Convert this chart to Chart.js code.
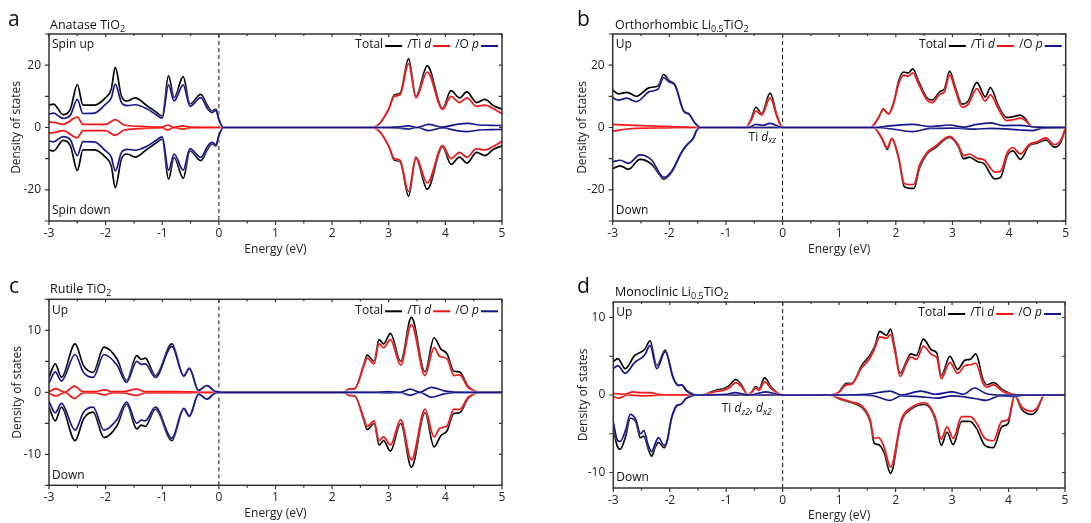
<!DOCTYPE html>
<html>
<head>
<meta charset="utf-8">
<script src="https://cdn.jsdelivr.net/npm/chart.js@4.4.0/dist/chart.umd.min.js"></script>
<style>
  body { margin: 0; width: 1091px; height: 523px; position: relative; background: #fff; overflow: hidden;
         font-family: "Open Sans", "Noto Sans", sans-serif; color: #111; }
  .panel { position: absolute; }
  .letter { position: absolute; font-size: 21px; line-height: 1; }
  .title { position: absolute; font-size: 12.5px; line-height: 1; white-space: nowrap; }
  .title sub { font-size: 9px; vertical-align: -3px; line-height: 0; }
</style>
</head>
<body>
<div class="panel" style="left:0;top:0"><canvas id="chartA" width="545" height="262"></canvas></div>
<div class="panel" style="left:545px;top:0"><canvas id="chartB" width="546" height="262"></canvas></div>
<div class="panel" style="left:0;top:262px"><canvas id="chartC" width="545" height="261"></canvas></div>
<div class="panel" style="left:545px;top:262px"><canvas id="chartD" width="546" height="261"></canvas></div>

<div class="letter" style="left:8px;top:8px">a</div>
<div class="title" style="left:50px;top:19px">Anatase TiO<sub>2</sub></div>
<div class="letter" style="left:577px;top:8px">b</div>
<div class="title" style="left:615px;top:19px">Orthorhombic Li<sub>0.5</sub>TiO<sub>2</sub></div>
<div class="letter" style="left:9px;top:275px">c</div>
<div class="title" style="left:50px;top:283px">Rutile TiO<sub>2</sub></div>
<div class="letter" style="left:577px;top:275px">d</div>
<div class="title" style="left:615px;top:286px">Monoclinic Li<sub>0.5</sub>TiO<sub>2</sub></div>

<script>
// energy axis
const xTicks = [-3, -2.5, -2, -1.5, -1, -0.5, 0, 0.5, 1, 1.5, 2, 2.5, 3, 3.5, 4, 4.5, 5];
const xLabels = [-3, -2, -1, 0, 1, 2, 3, 4, 5];
const yTicksAB = [-30, -20, -10, 0, 10, 20, 30];
const yLabelsAB = [-20, 0, 20];
const yTicksC = [-15, -10, -5, 0, 5, 10, 15];
const yTicksD = [-10, -5, 0, 5, 10];
const yLabelsCD = [-10, 0, 10];

// (a) Anatase TiO2  [energy eV, DOS]
const aTotalUp = [[-3,7.2],[-2.92,7.5],[-2.75,4.1],[-2.62,6],[-2.5,13.8],[-2.4,7.2],[-2.2,7.2],[-2.0,9.6],[-1.9,12.3],[-1.83,19.3],[-1.72,10],[-1.62,8.5],[-1.48,9.5],[-1.27,7],[-1.1,4.8],[-1.0,3.7],[-0.89,16.6],[-0.79,9.6],[-0.63,16.3],[-0.51,7.5],[-0.32,10.6],[-0.2,7],[-0.12,5.3],[-0.05,5.9],[0,2.7],[0.08,0],[2.6,0],[2.75,0.2],[2.85,1.5],[3.0,6],[3.1,10.5],[3.2,11],[3.35,22],[3.48,10],[3.68,19.8],[3.95,6.2],[4.1,11.8],[4.25,9.5],[4.38,11.4],[4.55,8],[4.7,9],[4.85,7],[5,5.9]];
const aTiUp = [[-3,1.8],[-2.9,1.6],[-2.75,1.0],[-2.5,3.3],[-2.4,1.0],[-2.0,1.0],[-1.83,2.5],[-1.67,0.8],[-1.3,0.3],[-1.0,0.1],[-0.9,0.8],[-0.8,0.05],[-0.63,0.5],[-0.5,0.1],[-0.3,0.05],[0,0],[2.6,0],[2.75,0.2],[2.85,1.5],[3.0,6],[3.1,10],[3.2,10.5],[3.35,20.5],[3.48,9.5],[3.68,17.8],[3.95,5.8],[4.1,10],[4.25,8],[4.38,9.5],[4.55,6.8],[4.7,7.2],[4.85,6],[5,4.4]];
const aOpUp = [[-3,4.3],[-2.92,4.6],[-2.75,2.9],[-2.62,4],[-2.5,9],[-2.4,4.5],[-2.2,4.6],[-2.0,7.5],[-1.9,9.5],[-1.83,13.9],[-1.72,8],[-1.62,7],[-1.48,7.3],[-1.27,6],[-1.1,4],[-1.0,3],[-0.89,13.7],[-0.79,8.5],[-0.63,13.7],[-0.51,6.8],[-0.32,9.6],[-0.2,6],[-0.12,4.8],[-0.05,5.5],[0,2.5],[0.08,0],[2.7,0],[3.2,0.2],[3.35,0.5],[3.5,0],[3.7,1.0],[3.95,0.1],[4.2,1.0],[4.4,1.3],[4.6,0.8],[4.8,0.7],[5,0.6]];
const aTotalDown = [[-3,-7.2],[-2.92,-7.5],[-2.75,-4.1],[-2.62,-6],[-2.5,-13.8],[-2.4,-7.2],[-2.2,-7.2],[-2.0,-9.6],[-1.9,-12.3],[-1.83,-19.3],[-1.72,-10],[-1.62,-8.5],[-1.48,-9.5],[-1.27,-7],[-1.1,-4.8],[-1.0,-3.7],[-0.89,-16.6],[-0.79,-9.6],[-0.63,-16.3],[-0.51,-7.5],[-0.32,-10.6],[-0.2,-7],[-0.12,-5.3],[-0.05,-5.9],[0,-2.7],[0.08,0],[2.6,0],[2.75,-0.2],[2.85,-1.5],[3.0,-6],[3.1,-10.5],[3.2,-11],[3.35,-22],[3.48,-10],[3.68,-19.8],[3.95,-6.2],[4.1,-11.8],[4.25,-9.5],[4.38,-11.4],[4.55,-8],[4.7,-9],[4.85,-7],[5,-5.9]];
const aTiDown = [[-3,-1.8],[-2.9,-1.6],[-2.75,-1.0],[-2.5,-3.3],[-2.4,-1.0],[-2.0,-1.0],[-1.83,-2.5],[-1.67,-0.8],[-1.3,-0.3],[-1.0,-0.1],[-0.9,-0.8],[-0.8,-0.05],[-0.63,-0.5],[-0.5,-0.1],[-0.3,-0.05],[0,0],[2.6,0],[2.75,-0.2],[2.85,-1.5],[3.0,-6],[3.1,-10],[3.2,-10.5],[3.35,-20.5],[3.48,-9.5],[3.68,-17.8],[3.95,-5.8],[4.1,-10],[4.25,-8],[4.38,-9.5],[4.55,-6.8],[4.7,-7.2],[4.85,-6],[5,-4.4]];
const aOpDown = [[-3,-4.3],[-2.92,-4.6],[-2.75,-2.9],[-2.62,-4],[-2.5,-9],[-2.4,-4.5],[-2.2,-4.6],[-2.0,-7.5],[-1.9,-9.5],[-1.83,-13.9],[-1.72,-8],[-1.62,-7],[-1.48,-7.3],[-1.27,-6],[-1.1,-4],[-1.0,-3],[-0.89,-13.7],[-0.79,-8.5],[-0.63,-13.7],[-0.51,-6.8],[-0.32,-9.6],[-0.2,-6],[-0.12,-4.8],[-0.05,-5.5],[0,-2.5],[0.08,0],[2.7,0],[3.2,-0.2],[3.35,-0.5],[3.5,0],[3.7,-1.0],[3.95,-0.1],[4.2,-1.0],[4.4,-1.3],[4.6,-0.8],[4.8,-0.7],[5,-0.6]];

// (b) Orthorhombic Li0.5TiO2
const bTotalUp = [[-3,12],[-2.9,10.8],[-2.75,11.3],[-2.58,10],[-2.35,12.8],[-2.2,13.3],[-2.1,17],[-2.0,15],[-1.9,13.8],[-1.75,5.5],[-1.65,4.3],[-1.55,1.5],[-1.45,0],[-0.65,0],[-0.55,3],[-0.47,6.5],[-0.37,4.5],[-0.22,11],[-0.1,4],[-0.02,0.5],[0.05,0],[1.55,0],[1.69,3],[1.78,6],[1.87,4.5],[1.96,8],[2.05,15],[2.14,17.8],[2.22,17.5],[2.3,18.8],[2.4,15],[2.55,9.5],[2.64,8.8],[2.78,11.5],[2.86,12.5],[2.95,18],[3.05,13],[3.17,7.5],[3.28,8.5],[3.43,14.5],[3.58,9.8],[3.67,12.8],[3.81,7],[3.96,3.2],[4.08,3.5],[4.2,4.0],[4.28,3],[4.4,0.2],[4.46,0],[5,0]];
const bTiUp = [[-3,1.0],[-2.5,0.6],[-2,0.3],[-1.5,0],[-0.65,0],[-0.55,2.5],[-0.47,5.3],[-0.37,4],[-0.22,9.5],[-0.1,3.5],[-0.02,0.3],[0.05,0],[1.55,0],[1.69,3],[1.78,5.8],[1.87,4.3],[1.96,7.5],[2.05,14],[2.14,16.8],[2.22,16.5],[2.3,17.5],[2.4,14],[2.55,8.8],[2.64,8],[2.78,10.7],[2.86,11.5],[2.95,16.8],[3.05,12],[3.17,6.5],[3.28,7.5],[3.43,12.5],[3.58,8.5],[3.67,10.5],[3.81,6],[3.96,2.2],[4.08,2.5],[4.2,3.0],[4.28,2.3],[4.4,0.2],[4.46,0],[5,0]];
const bOpUp = [[-3,9.5],[-2.9,8.8],[-2.75,9.4],[-2.58,8.3],[-2.35,11.5],[-2.2,12.3],[-2.1,16],[-2.0,14.6],[-1.9,13.5],[-1.75,5.3],[-1.65,4.2],[-1.55,1.5],[-1.45,0],[-0.6,0],[-0.47,1],[-0.35,0.7],[-0.22,1.3],[0,0],[1.6,0],[1.9,0.5],[2.3,1.0],[2.6,0.3],[2.95,0.8],[3.2,0.1],[3.4,0.9],[3.67,1.5],[3.9,0.6],[4.2,0.7],[4.5,0.1],[5,0]];
const bTotalDown = [[-3,-13.2],[-2.87,-12.3],[-2.72,-13.4],[-2.52,-10.2],[-2.31,-11.8],[-2.16,-15.5],[-2.1,-16.6],[-1.96,-14.4],[-1.78,-8],[-1.7,-5.9],[-1.57,-3.2],[-1.52,-1],[-1.45,0],[1.6,0],[1.75,-3.5],[1.85,-7],[1.93,-3.8],[2.05,-10],[2.15,-19],[2.25,-19.5],[2.32,-19.5],[2.42,-13],[2.55,-8.5],[2.7,-6.5],[2.95,-3.2],[3.1,-6],[3.2,-10],[3.3,-9.5],[3.45,-11],[3.55,-11.5],[3.75,-16.5],[3.85,-16],[3.97,-9],[4.07,-7.5],[4.2,-10.2],[4.35,-6],[4.5,-5],[4.65,-4],[4.8,-6.3],[4.92,-4.5],[5,0]];
const bTiDown = [[-3,-1.2],[-2.7,-0.4],[-2.0,-0.1],[-1.5,0],[1.6,0],[1.75,-3.2],[1.85,-6.5],[1.93,-3.5],[2.05,-9.5],[2.15,-18],[2.25,-18.3],[2.32,-18.2],[2.42,-12],[2.55,-8],[2.7,-6],[2.95,-2.8],[3.1,-5.5],[3.2,-9],[3.3,-8.5],[3.45,-10],[3.55,-10.3],[3.75,-14.3],[3.85,-14],[3.97,-8],[4.07,-6.5],[4.2,-8.5],[4.35,-5.5],[4.5,-4.5],[4.65,-3.3],[4.8,-5.5],[4.92,-3.8],[5,0]];
const bOpDown = [[-3,-11],[-2.87,-10.5],[-2.72,-11.5],[-2.52,-8.8],[-2.31,-10.5],[-2.16,-15],[-2.1,-16],[-1.96,-14],[-1.78,-7.8],[-1.7,-5.8],[-1.57,-3.2],[-1.52,-1],[-1.45,0],[1.6,0],[1.9,-0.4],[2.3,-1.3],[2.6,-0.3],[3.0,-0.2],[3.4,-0.5],[3.67,-0.3],[4.0,-0.5],[4.2,-0.8],[4.4,-1.0],[4.6,-0.2],[5,0]];

// (c) Rutile TiO2
const cTotalUp = [[-3,2.4],[-2.89,4.6],[-2.78,2.4],[-2.54,7.8],[-2.39,4.3],[-2.22,3.2],[-2.03,7.3],[-1.8,5.4],[-1.63,1.9],[-1.45,5.9],[-1.37,5.3],[-1.3,5.5],[-1.12,2.7],[-0.83,7.8],[-0.62,2.7],[-0.52,3.9],[-0.36,0.3],[-0.21,1.1],[-0.08,0.2],[0.05,0],[2.2,0],[2.3,0.5],[2.4,0.6],[2.56,4.5],[2.62,6],[2.74,5],[2.83,8.5],[2.91,7.8],[3.03,9.5],[3.21,5.0],[3.4,12.1],[3.64,3.3],[3.8,8.8],[3.92,7],[4.03,6.2],[4.15,3.4],[4.25,3.3],[4.4,1.0],[4.5,0.3],[4.6,0],[5,0]];
const cTiUp = [[-3,0.1],[-2.88,0.6],[-2.72,0.0],[-2.55,1.0],[-2.4,0.1],[-2.2,0.1],[-2.0,0.4],[-1.9,0.1],[-1.7,0.1],[-1.45,0.5],[-1.3,0.1],[-0.8,0.1],[0,0],[2.2,0],[2.3,0.5],[2.4,0.6],[2.56,4.2],[2.62,5.5],[2.74,4.6],[2.83,7.8],[2.91,7.2],[3.03,8.5],[3.21,4.4],[3.4,10.9],[3.64,2.7],[3.8,7.2],[3.9,5.8],[4.03,5.4],[4.15,2.7],[4.25,2.8],[4.4,0.8],[4.5,0.3],[4.6,0],[5,0]];
const cOpUp = [[-3,1.5],[-2.89,3.3],[-2.78,1.8],[-2.54,6.1],[-2.39,3.2],[-2.22,2.4],[-2.03,6.1],[-1.8,4.4],[-1.63,1.6],[-1.45,5.0],[-1.37,4.5],[-1.3,4.6],[-1.12,2.4],[-0.83,7.4],[-0.62,2.6],[-0.52,3.8],[-0.36,0.3],[-0.21,1.1],[-0.08,0.2],[0.05,0],[2.7,0],[3.0,0.1],[3.2,0],[3.38,0.5],[3.55,0],[3.75,0.8],[4.0,0.2],[4.3,0],[5,0]];
const cTotalDown = [[-3,-2.4],[-2.89,-4.6],[-2.78,-2.4],[-2.54,-7.8],[-2.39,-4.3],[-2.22,-3.2],[-2.03,-7.3],[-1.8,-5.4],[-1.63,-1.9],[-1.45,-5.9],[-1.37,-5.3],[-1.3,-5.5],[-1.12,-2.7],[-0.83,-7.8],[-0.62,-2.7],[-0.52,-3.9],[-0.36,-0.3],[-0.21,-1.1],[-0.08,-0.2],[0.05,0],[2.2,0],[2.3,-0.5],[2.4,-0.6],[2.56,-4.5],[2.62,-6],[2.74,-5],[2.83,-8.5],[2.91,-7.8],[3.03,-9.5],[3.21,-5.0],[3.4,-12.1],[3.64,-3.3],[3.8,-8.8],[3.92,-7],[4.03,-6.2],[4.15,-3.4],[4.25,-3.3],[4.4,-1.0],[4.5,-0.3],[4.6,0],[5,0]];
const cTiDown = [[-3,-0.1],[-2.88,-0.6],[-2.72,0.0],[-2.55,-1.0],[-2.4,-0.1],[-2.2,-0.1],[-2.0,-0.4],[-1.9,-0.1],[-1.7,-0.1],[-1.45,-0.5],[-1.3,-0.1],[-0.8,-0.1],[0,0],[2.2,0],[2.3,-0.5],[2.4,-0.6],[2.56,-4.2],[2.62,-5.5],[2.74,-4.6],[2.83,-7.8],[2.91,-7.2],[3.03,-8.5],[3.21,-4.4],[3.4,-10.9],[3.64,-2.7],[3.8,-7.2],[3.9,-5.8],[4.03,-5.4],[4.15,-2.7],[4.25,-2.8],[4.4,-0.8],[4.5,-0.3],[4.6,0],[5,0]];
const cOpDown = [[-3,-1.5],[-2.89,-3.3],[-2.78,-1.8],[-2.54,-6.1],[-2.39,-3.2],[-2.22,-2.4],[-2.03,-6.1],[-1.8,-4.4],[-1.63,-1.6],[-1.45,-5.0],[-1.37,-4.5],[-1.3,-4.6],[-1.12,-2.4],[-0.83,-7.4],[-0.62,-2.6],[-0.52,-3.8],[-0.36,-0.3],[-0.21,-1.1],[-0.08,-0.2],[0.05,0],[2.7,0],[3.0,-0.1],[3.2,0],[3.38,-0.5],[3.55,0],[3.75,-0.8],[4.0,-0.2],[4.3,0],[5,0]];

// (d) Monoclinic Li0.5TiO2
const dTotalUp = [[-3,4.3],[-2.92,4.7],[-2.79,3.4],[-2.62,5.1],[-2.44,5.9],[-2.35,7.0],[-2.23,3.8],[-2.08,5.8],[-1.94,2.3],[-1.85,1.3],[-1.79,1.3],[-1.7,0.6],[-1.55,0.05],[-1.45,0],[-1.3,0.3],[-1.15,0.7],[-1.05,0.8],[-0.95,1.2],[-0.83,2.0],[-0.72,1.2],[-0.62,0.05],[-0.55,0.4],[-0.48,1.1],[-0.42,0.8],[-0.32,2.2],[-0.2,1.0],[-0.05,0.1],[0,0],[0.81,0],[0.98,0.3],[1.13,1.5],[1.22,1.5],[1.4,3.8],[1.55,5.2],[1.63,6.3],[1.72,8.2],[1.84,7.7],[1.91,8.5],[1.99,6],[2.08,2.8],[2.2,4.5],[2.27,5.3],[2.37,5.1],[2.49,7.2],[2.64,5.8],[2.73,5.4],[2.81,2.5],[2.96,5.0],[3.1,3.3],[3.23,4.5],[3.32,4.6],[3.42,5.3],[3.55,2.0],[3.62,1.3],[3.73,1.6],[3.91,0.6],[4.08,0.1],[4.2,0],[5,0]];
const dTiUp = [[-3,0.2],[-2.8,0.1],[-2.65,0.4],[-2.5,0.3],[-2.35,0.3],[-2.2,0.1],[-2.0,0],[-1.45,0],[-1.3,0.2],[-1.15,0.5],[-1.05,0.6],[-0.95,0.9],[-0.83,1.6],[-0.72,1.0],[-0.62,0.05],[-0.55,0.3],[-0.48,0.9],[-0.42,0.6],[-0.32,1.7],[-0.2,0.8],[-0.05,0.1],[0,0],[0.81,0],[0.98,0.25],[1.13,1.3],[1.22,1.4],[1.4,3.5],[1.55,4.8],[1.63,6.0],[1.72,7.5],[1.84,7.3],[1.91,7.8],[1.99,5.5],[2.08,2.4],[2.2,4.2],[2.27,4.9],[2.37,4.6],[2.49,6.3],[2.64,5.2],[2.73,4.8],[2.81,2.1],[2.96,4.2],[3.1,2.8],[3.23,3.8],[3.32,3.9],[3.42,4.1],[3.55,1.5],[3.62,1.0],[3.73,1.3],[3.91,0.4],[4.08,0.1],[4.2,0],[5,0]];
const dOpUp = [[-3,3.4],[-2.92,3.8],[-2.79,2.8],[-2.62,4.2],[-2.44,5.2],[-2.35,6.4],[-2.23,3.4],[-2.08,5.6],[-1.94,2.2],[-1.85,1.2],[-1.79,1.3],[-1.7,0.5],[-1.55,0],[-1.0,0.1],[-0.85,0.3],[-0.6,0],[-0.3,0.4],[0,0],[1.0,0],[1.5,0.1],[1.9,0.5],[2.1,0],[2.45,0.5],[2.7,0.1],[3.0,0.4],[3.2,0.1],[3.4,0.9],[3.6,0.2],[3.9,0],[5,0]];
const dTotalDown = [[-3,-4.4],[-2.93,-6.6],[-2.88,-7.0],[-2.78,-5.3],[-2.7,-3.0],[-2.6,-3.5],[-2.52,-5.5],[-2.46,-5.3],[-2.38,-7.0],[-2.32,-7.9],[-2.26,-6.8],[-2.2,-6.1],[-2.1,-6.8],[-2.05,-6.1],[-1.97,-3.1],[-1.87,-1.4],[-1.8,-1.2],[-1.72,-0.5],[-1.6,-0.1],[-1.5,0],[0.81,0],[1.04,-0.6],[1.22,-1.0],[1.4,-1.6],[1.55,-3.5],[1.62,-6.2],[1.7,-6.4],[1.8,-7.5],[1.91,-10.1],[2.1,-3.5],[2.28,-1.8],[2.52,-1.2],[2.7,-3.1],[2.81,-6.5],[2.91,-4.8],[3.02,-6.4],[3.17,-3.4],[3.32,-3.4],[3.44,-4.4],[3.58,-6.5],[3.73,-6.8],[3.88,-4.1],[3.99,-3.7],[4.11,-0.1],[4.23,-1.8],[4.41,-2.5],[4.5,-2.0],[4.64,0],[5,0]];
const dTiDown = [[-3,-0.2],[-2.9,-0.4],[-2.75,0],[-2.5,-0.1],[-2,0],[0.81,0],[1.04,-0.5],[1.22,-0.9],[1.4,-1.4],[1.55,-3.2],[1.62,-5.6],[1.7,-5.5],[1.8,-6.8],[1.91,-9.3],[2.1,-3.2],[2.28,-1.6],[2.52,-1.0],[2.7,-2.8],[2.81,-5.7],[2.91,-4.1],[3.02,-5.6],[3.17,-2.8],[3.32,-2.8],[3.44,-3.7],[3.58,-5.6],[3.73,-5.9],[3.88,-3.4],[3.99,-3.2],[4.11,0],[4.23,-1.5],[4.41,-2.1],[4.5,-1.7],[4.64,0],[5,0]];
const dOpDown = [[-3,-3.5],[-2.93,-5.8],[-2.88,-6.0],[-2.78,-4.5],[-2.7,-2.5],[-2.6,-3.2],[-2.52,-5.0],[-2.46,-4.6],[-2.38,-6.5],[-2.32,-7.3],[-2.26,-6.3],[-2.2,-5.5],[-2.1,-6.5],[-2.05,-6.0],[-1.97,-3.0],[-1.87,-1.3],[-1.8,-1.2],[-1.72,-0.5],[-1.6,-0.1],[-1.5,0],[1.2,0],[1.6,-0.1],[1.9,-0.7],[2.1,-0.1],[2.4,-0.2],[2.75,-0.4],[3.0,-0.1],[3.2,-0.2],[3.5,-0.6],[3.6,-0.7],[3.85,-0.1],[4.1,-0.2],[4.3,0],[5,0]];

const FONT = '"Open Sans", "Noto Sans", sans-serif';
const RED = '#f01414';
const BLUE = '#16168c';
const AXIS = '#333';

// draw a run of text pieces (normal / italic / subscript), return end x
function drawRich(ctx, x, y, parts, measureOnly) {
  for (const p of parts) {
    const size = p.sub ? 8.5 : 12;
    ctx.font = (p.it ? 'italic ' : '') + size + 'px ' + FONT;
    if (!measureOnly) ctx.fillText(p.t, x, y + (p.sub ? 3.5 : 0));
    x += ctx.measureText(p.t).width;
  }
  return x;
}

const legendItems = [
  { parts: [{ t: 'Total' }], color: '#000' },
  { parts: [{ t: '/Ti ' }, { t: 'd', it: true }], color: RED },
  { parts: [{ t: '/O ' }, { t: 'p', it: true }], color: BLUE }
];

const framePlugin = {
  id: 'frame',
  beforeDatasetsDraw(chart) {
    const { ctx, chartArea: a, scales: { x } } = chart;
    const x0 = x.getPixelForValue(0);
    ctx.save();
    ctx.strokeStyle = '#111';
    ctx.lineWidth = 1;
    ctx.setLineDash([4, 3]);
    ctx.beginPath();
    ctx.moveTo(x0, a.top);
    ctx.lineTo(x0, a.bottom);
    ctx.stroke();
    ctx.restore();
  },
  // thin white halo around each curve
  beforeDatasetDraw(chart) {
    chart.ctx.save();
    chart.ctx.shadowColor = 'rgba(255,255,255,0.9)';
    chart.ctx.shadowBlur = 2;
  },
  afterDatasetDraw(chart) {
    chart.ctx.restore();
  },
  afterDatasetsDraw(chart, args, opts) {
    const { ctx, chartArea: a, scales: { x, y } } = chart;
    ctx.save();
    // ticks
    ctx.strokeStyle = AXIS;
    ctx.lineWidth = 1.2;
    ctx.beginPath();
    for (const v of xTicks) {
      const px = x.getPixelForValue(v);
      const major = Number.isInteger(v);
      ctx.moveTo(px, a.bottom);
      ctx.lineTo(px, a.bottom + (major ? 4 : 2.5));
      ctx.moveTo(px, a.top);
      ctx.lineTo(px, a.top + (major ? 3 : 2));
    }
    for (const v of opts.yTicks) {
      const py = y.getPixelForValue(v);
      ctx.moveTo(a.left, py);
      ctx.lineTo(a.left - 4, py);
      ctx.moveTo(a.right, py);
      ctx.lineTo(a.right - 3, py);
    }
    ctx.stroke();
    ctx.lineWidth = 1.5;
    ctx.strokeRect(a.left, a.top, a.right - a.left, a.bottom - a.top);

    // spin labels
    ctx.fillStyle = '#111';
    ctx.textBaseline = 'middle';
    ctx.textAlign = 'left';
    ctx.font = '12px ' + FONT;
    ctx.fillText(opts.up, a.left + 3, a.top + 11);
    ctx.fillText(opts.down, a.left + 3, a.bottom - 10);

    // legend, right aligned inside the frame
    const lineLen = 17, gapIn = 2, gapOut = 5;
    let total = 0;
    legendItems.forEach((it, i) => {
      total += drawRich(ctx, 0, 0, it.parts, true) + gapIn + lineLen + (i ? gapOut : 0);
    });
    let lx = a.right - 4 - total;
    const ly = a.top + 11;
    legendItems.forEach((it, i) => {
      if (i) lx += gapOut;
      ctx.fillStyle = '#111';
      lx = drawRich(ctx, lx, ly, it.parts) + gapIn;
      ctx.strokeStyle = it.color;
      ctx.lineWidth = 2;
      ctx.beginPath();
      ctx.moveTo(lx, ly + 1);
      ctx.lineTo(lx + lineLen, ly + 1);
      ctx.stroke();
      lx += lineLen;
    });

    // orbital note
    if (opts.note) {
      ctx.fillStyle = '#111';
      drawRich(ctx, x.getPixelForValue(opts.note.x), y.getPixelForValue(opts.note.y), opts.note.parts);
    }
    ctx.restore();
  }
};

function makePanel(cfg) {
  const pts = arr => arr.map(([e, v]) => ({ x: e, y: v }));
  // blue first so it is drawn on top
  const styles = [BLUE, BLUE, RED, RED, '#000', '#000'];
  const datasets = cfg.series.map((s, i) => ({
    data: pts(s),
    borderColor: styles[i],
    borderWidth: 1.7,
    pointRadius: 0,
    fill: false,
    cubicInterpolationMode: 'monotone'
  }));
  const tickFont = { family: FONT, size: 12 };
  new Chart(document.getElementById(cfg.id), {
    type: 'line',
    data: { datasets },
    options: {
      responsive: false,
      animation: false,
      layout: { padding: { top: cfg.top, right: cfg.right, left: 0, bottom: 0 } },
      scales: {
        x: {
          type: 'linear', min: -3, max: 5,
          afterBuildTicks: s => { s.ticks = xLabels.map(v => ({ value: v })); },
          ticks: { font: tickFont, color: '#222', padding: 5, callback: v => String(v) },
          grid: { display: false, drawTicks: false },
          border: { display: false },
          title: { display: true, text: 'Energy (eV)', font: tickFont, color: '#222', padding: { top: 0, bottom: cfg.xTitlePad } },
          afterFit: s => { s.height = cfg.xHeight; }
        },
        y: {
          min: cfg.yMin, max: cfg.yMax,
          afterBuildTicks: s => { s.ticks = cfg.yLabels.map(v => ({ value: v })); },
          ticks: { font: tickFont, color: '#222', padding: 8, callback: v => String(v) },
          grid: { display: false, drawTicks: false },
          border: { display: false },
          title: { display: true, text: 'Density of states', font: tickFont, color: '#222', padding: { top: cfg.yTitlePad, bottom: 0 } },
          afterFit: s => { s.width = cfg.yWidth; }
        }
      },
      plugins: {
        legend: { display: false },
        tooltip: { enabled: false },
        frame: { yTicks: cfg.yTicks, up: cfg.up, down: cfg.down, note: cfg.note }
      }
    },
    plugins: [framePlugin]
  });
}

makePanel({
  id: 'chartA', yMin: -30, yMax: 30, yTicks: yTicksAB, yLabels: yLabelsAB,
  up: 'Spin up', down: 'Spin down',
  top: 34, right: 43, yWidth: 49, xHeight: 41, yTitlePad: 9.8, xTitlePad: 5.3,
  series: [aOpUp, aOpDown, aTiUp, aTiDown, aTotalUp, aTotalDown]
});
makePanel({
  id: 'chartB', yMin: -30, yMax: 30, yTicks: yTicksAB, yLabels: yLabelsAB,
  up: 'Up', down: 'Down',
  top: 34, right: 25.3, yWidth: 67.7, xHeight: 41, yTitlePad: 30.8, xTitlePad: 5.3,
  note: { x: -0.6, y: -3.1, parts: [{ t: 'Ti ' }, { t: 'd', it: true }, { t: 'xz', it: true, sub: true }] },
  series: [bOpUp, bOpDown, bTiUp, bTiDown, bTotalUp, bTotalDown]
});
makePanel({
  id: 'chartC', yMin: -15, yMax: 15, yTicks: yTicksC, yLabels: yLabelsCD,
  up: 'Up', down: 'Down',
  top: 37.3, right: 43, yWidth: 49, xHeight: 37.7, yTitlePad: 10, xTitlePad: 2,
  series: [cOpUp, cOpDown, cTiUp, cTiDown, cTotalUp, cTotalDown]
});
makePanel({
  id: 'chartD', yMin: -12, yMax: 12, yTicks: yTicksD, yLabels: yLabelsCD,
  up: 'Up', down: 'Down',
  top: 40, right: 26, yWidth: 68.3, xHeight: 35, yTitlePad: 31, xTitlePad: 0,
  note: { x: -1.08, y: -1.8, parts: [{ t: 'Ti ' }, { t: 'd', it: true }, { t: 'z2', it: true, sub: true }, { t: ', ' }, { t: 'd', it: true }, { t: 'x2', it: true, sub: true }] },
  series: [dOpUp, dOpDown, dTiUp, dTiDown, dTotalUp, dTotalDown]
});
</script>
</body>
</html>
